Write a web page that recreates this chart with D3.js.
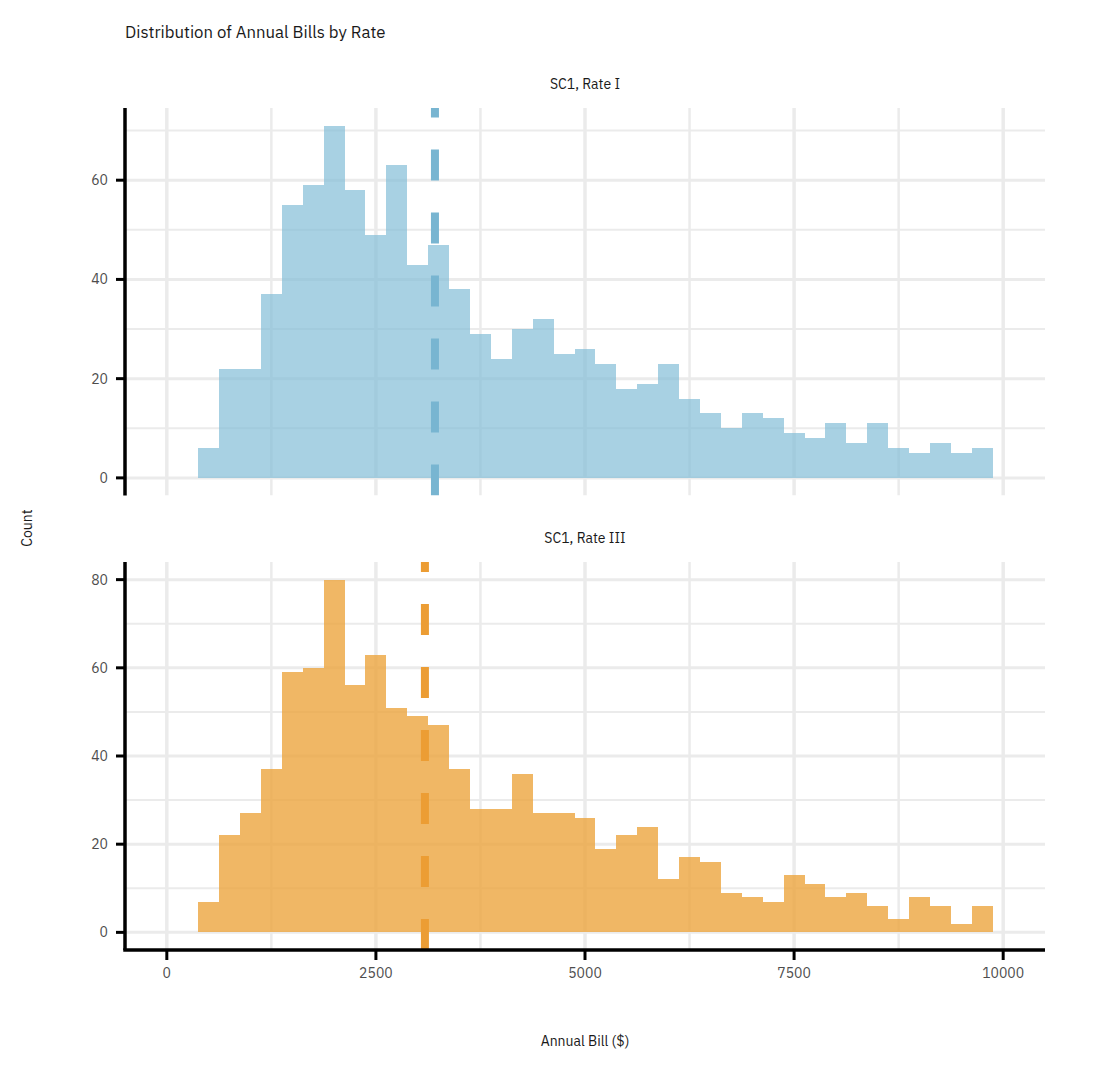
<!DOCTYPE html>
<html>
<head>
<meta charset="utf-8">
<script src="https://cdn.jsdelivr.net/npm/d3@7"></script>
<style>
  body { margin: 0; background: #fff; }
  text { font-family: "IBM Plex Sans", Roboto, "Noto Sans", sans-serif; }
</style>
</head>
<body>
<svg width="1098" height="1070"></svg>
<script>
// bin left edges (bin width 250)
const binStarts = [375, 625, 875, 1125, 1375, 1625, 1875, 2125, 2375, 2625,
  2875, 3125, 3375, 3625, 3875, 4125, 4375, 4625, 4875, 5125,
  5375, 5625, 5875, 6125, 6375, 6625, 6875, 7125, 7375, 7625,
  7875, 8125, 8375, 8625, 8875, 9125, 9375, 9625];
const binWidth = 250;

const rateICounts = [6, 22, 22, 37, 55, 59, 71, 58, 49, 63,
  43, 47, 38, 29, 24, 30, 32, 25, 26, 23,
  18, 19, 23, 16, 13, 10, 13, 12, 9, 8,
  11, 7, 11, 6, 5, 7, 5, 6];

const rateIIICounts = [7, 22, 27, 37, 59, 60, 80, 56, 63, 51,
  49, 47, 37, 28, 28, 36, 27, 27, 26, 19,
  22, 24, 12, 17, 16, 9, 8, 7, 13, 11,
  8, 9, 6, 3, 8, 6, 2, 6];

const panelLabels = ["SC1, Rate I", "SC1, Rate III"];
const meanBills = [3206, 3086];

const xTicks = [0, 2500, 5000, 7500, 10000];
const xMinor = [1250, 3750, 6250, 8750];

const svg = d3.select("svg");
const left = 125, right = 1045;

const x = d3.scaleLinear().domain([-500, 10500]).range([left, right]);

const panels = [
  { label: panelLabels[0], counts: rateICounts, mean: meanBills[0],
    top: 108, bottom: 495.5, fill: "#7ebad5", fillOpacity: 0.67, line: "#78b5d1",
    yTicks: [0, 20, 40, 60], yMinor: [10, 30, 50, 70] },
  { label: panelLabels[1], counts: rateIIICounts, mean: meanBills[1],
    top: 562, bottom: 950, fill: "#eca53e", fillOpacity: 0.8, line: "#ec9d34",
    yTicks: [0, 20, 40, 60, 80], yMinor: [10, 30, 50, 70] }
];

const grid = "#ebebeb";

panels.forEach((p, i) => {
  const maxC = d3.max(p.counts);
  const y = d3.scaleLinear()
    .domain([-0.05 * maxC, maxC * 1.05])
    .range([p.bottom, p.top]);

  const g = svg.append("g");
  const clipId = "clip" + i;
  g.append("clipPath").attr("id", clipId)
    .append("rect")
    .attr("x", left).attr("y", p.top)
    .attr("width", right - left).attr("height", p.bottom - p.top);

  const inner = g.append("g").attr("clip-path", `url(#${clipId})`);

  // minor grid
  inner.selectAll(".vminor").data(xMinor).enter().append("line")
    .attr("x1", d => x(d)).attr("x2", d => x(d))
    .attr("y1", p.top).attr("y2", p.bottom)
    .attr("stroke", grid).attr("stroke-width", 2.5);
  inner.selectAll(".hminor").data(p.yMinor).enter().append("line")
    .attr("x1", left).attr("x2", right)
    .attr("y1", d => y(d)).attr("y2", d => y(d))
    .attr("stroke", grid).attr("stroke-width", 2);

  // major grid
  inner.selectAll(".vmajor").data(xTicks).enter().append("line")
    .attr("x1", d => x(d)).attr("x2", d => x(d))
    .attr("y1", p.top).attr("y2", p.bottom)
    .attr("stroke", grid).attr("stroke-width", 3.5);
  inner.selectAll(".hmajor").data(p.yTicks).enter().append("line")
    .attr("x1", left).attr("x2", right)
    .attr("y1", d => y(d)).attr("y2", d => y(d))
    .attr("stroke", grid).attr("stroke-width", 3);

  // histogram bars
  inner.selectAll(".bar").data(p.counts).enter().append("rect")
    .attr("x", (d, j) => x(binStarts[j]))
    .attr("width", (d, j) => x(binStarts[j] + binWidth) - x(binStarts[j]))
    .attr("y", d => y(d))
    .attr("height", d => y(0) - y(d))
    .attr("fill", p.fill)
    .attr("fill-opacity", p.fillOpacity)
    .attr("shape-rendering", "crispEdges");

  // mean line, dashed, drawn from bottom upward
  inner.append("line")
    .attr("x1", x(p.mean)).attr("x2", x(p.mean))
    .attr("y1", p.bottom).attr("y2", p.top)
    .attr("stroke", p.line)
    .attr("stroke-width", 8)
    .attr("stroke-dasharray", "31,32");

  // y axis line and ticks
  g.append("line")
    .attr("x1", left).attr("x2", left)
    .attr("y1", p.top).attr("y2", p.bottom)
    .attr("stroke", "#000").attr("stroke-width", 3.5);
  g.selectAll(".ytick").data(p.yTicks).enter().append("line")
    .attr("x1", left - 9).attr("x2", left)
    .attr("y1", d => y(d)).attr("y2", d => y(d))
    .attr("stroke", "#000").attr("stroke-width", 3);
  g.selectAll(".ylab").data(p.yTicks).enter().append("text")
    .attr("x", left - 17).attr("y", d => y(d))
    .attr("dy", "0.35em")
    .attr("text-anchor", "end")
    .attr("font-size", 14)
    .attr("fill", "#4d4d4d")
    .text(d => d);

  // strip label
  svg.append("text")
    .attr("x", (left + right) / 2).attr("y", p.top - 19)
    .attr("text-anchor", "middle")
    .attr("font-size", 14)
    .attr("fill", "#1a1a1a")
    .text(p.label);

  // x axis on the bottom panel only
  if (i === panels.length - 1) {
    g.append("line")
      .attr("x1", left - 1.75).attr("x2", right)
      .attr("y1", p.bottom).attr("y2", p.bottom)
      .attr("stroke", "#000").attr("stroke-width", 3.5);
    g.selectAll(".xtick").data(xTicks).enter().append("line")
      .attr("x1", d => x(d)).attr("x2", d => x(d))
      .attr("y1", p.bottom).attr("y2", p.bottom + 10)
      .attr("stroke", "#000").attr("stroke-width", 3);
    g.selectAll(".xlab").data(xTicks).enter().append("text")
      .attr("x", d => x(d)).attr("y", p.bottom + 28)
      .attr("text-anchor", "middle")
      .attr("font-size", 14)
      .attr("fill", "#4d4d4d")
      .text(d => d);
  }
});

// titles
svg.append("text")
  .attr("x", 125).attr("y", 38)
  .attr("font-size", 16.8)
  .attr("fill", "#1a1a1a")
  .text("Distribution of Annual Bills by Rate");

svg.append("text")
  .attr("x", (left + right) / 2).attr("y", 1046)
  .attr("text-anchor", "middle")
  .attr("font-size", 14)
  .attr("fill", "#1a1a1a")
  .text("Annual Bill ($)");

svg.append("text")
  .attr("transform", "translate(32,528) rotate(-90)")
  .attr("text-anchor", "middle")
  .attr("font-size", 14)
  .attr("fill", "#1a1a1a")
  .text("Count");
</script>
</body>
</html>
